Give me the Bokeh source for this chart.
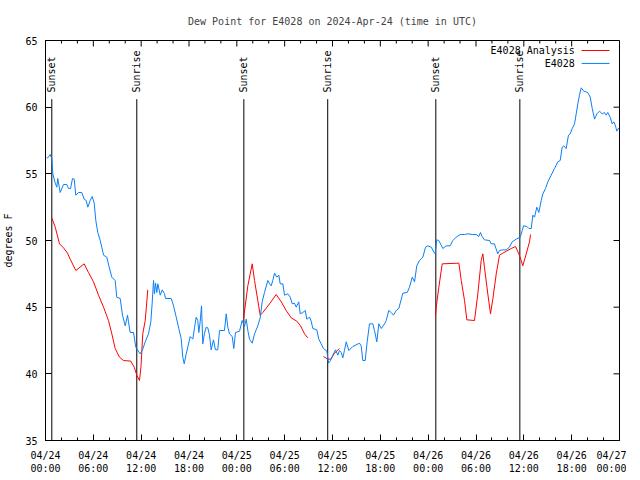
import math
from bokeh.plotting import figure
from bokeh.models import Range1d, FixedTicker
from bokeh.core.properties import value
from bokeh.embed import file_html
from bokeh.resources import INLINE

NAN = float("nan")
FONT = "DejaVu Sans Mono"

# ---- Observed dew point (E4028), hours since 2024-04-24 00:00 UTC ----
obs_hours = [
    0.13, 0.29, 0.59, 0.79, 0.92, 1.22, 1.42, 1.54, 1.84, 2.26,
    2.67, 2.89, 3.14, 3.39, 3.6, 3.8, 4.14, 4.55, 4.85, 5.1,
    5.31, 5.61, 5.86, 6.11, 6.31, 6.56, 6.86, 7.06, 7.28, 7.69,
    7.99, 8.32, 8.74, 8.94, 9.37, 9.66, 10.0, 10.29, 10.41, 10.62,
    11.04, 11.33, 11.54, 11.88, 12.17, 12.51, 12.92, 13.21, 13.38, 13.55,
    13.67, 13.8, 13.96, 14.09, 14.39, 14.64, 14.93, 15.05, 15.77, 16.06,
    16.4, 16.72, 17.02, 17.22, 17.4, 17.65, 17.85, 18.15, 18.48, 18.69,
    18.9, 19.1, 19.23, 19.4, 19.57, 19.73, 19.94, 20.16, 20.36, 20.57,
    20.78, 21.07, 21.32, 21.61, 21.83, 22.45, 22.67, 22.87, 23.08, 23.42,
    23.62, 23.83, 24.34, 24.67, 24.96, 25.18, 25.38, 25.59, 25.93, 26.22,
    26.63, 26.93, 27.18, 27.47, 27.89, 28.1, 28.31, 28.51, 28.73, 29.01,
    29.27, 29.44, 29.77, 29.98, 30.39, 30.7, 30.95, 31.23, 31.45, 31.77,
    31.95, 32.28, 32.58, 32.78, 33.12, 33.33, 33.53, 34.03, 34.28, 34.58,
    34.87, 35.29, 35.5, 35.75, 36.04, 36.38, 36.67, 36.88, 37.09, 37.29,
    37.5, 37.72, 38.05, 38.55, 39.39, 39.6, 39.8, 40.1, 40.35, 40.64,
    41.06, 41.27, 41.56, 41.81, 42.11, 42.53, 42.74, 43.06, 43.36, 43.65,
    43.99, 44.32, 44.82, 45.37, 45.66, 46.0, 46.29, 46.57, 46.91, 47.33,
    47.67, 47.95, 48.38, 48.8, 48.88, 49.08, 49.33, 49.84, 50.26, 50.76,
    51.09, 51.51, 52.02, 52.56, 52.97, 53.6, 54.02, 54.35, 54.56, 54.77,
    55.06, 55.69, 55.9, 56.31, 56.73, 56.95, 57.36, 57.79, 58.2, 58.54,
    59.04, 59.55, 59.8, 59.96, 60.38, 60.63, 60.93, 61.13, 61.34, 61.63,
    61.88, 62.18, 62.38, 62.72, 63.01, 63.43, 63.85, 64.26, 64.56, 64.81,
    65.01, 65.31, 65.6, 65.82, 66.07, 66.36, 66.57, 66.77, 66.98, 67.2,
    67.52, 68.02, 68.33, 68.58, 68.87, 69.16, 69.49, 69.83, 70.12, 70.33,
    70.53, 70.83, 71.08, 71.29, 71.5, 71.66, 71.92,
]
obs_dewpt = [
    56.2, 56.2, 56.45, 56.15, 55.0, 54.3, 54.0, 54.65, 53.6, 54.2,
    54.2, 53.9, 53.9, 54.65, 54.6, 53.4, 53.6, 53.6, 53.1, 53.0,
    52.5, 53.0, 53.3, 52.8, 51.5, 50.6, 50.0, 49.5, 48.9, 48.75,
    48.0, 47.25, 47.0, 45.75, 45.65, 44.4, 43.6, 44.4, 43.9, 43.1,
    43.1, 42.0, 41.8, 41.5, 41.8, 42.4, 43.0, 43.9, 45.3, 47.0,
    46.0, 46.8, 46.1, 46.75, 45.9, 46.3, 46.0, 45.65, 45.65, 45.1,
    44.25, 43.4, 42.65, 41.25, 40.75, 41.5, 42.0, 42.8, 42.6, 43.45,
    44.25, 44.0, 43.1, 43.9, 45.1, 42.25, 43.05, 43.5, 43.45, 42.9,
    41.8, 42.55, 41.8, 41.8, 43.25, 43.25, 44.5, 43.5, 43.0, 42.8,
    41.9, 43.1, 43.2, 44.0, 43.55, 44.1, 43.25, 42.6, 42.3, 43.0,
    43.6, 44.2, 45.4, 46.1, 47.0, 46.75, 46.6, 47.0, 47.55, 47.25,
    47.4, 46.75, 46.75, 45.9, 46.0, 45.75, 45.25, 45.3, 45.0, 45.4,
    44.5, 44.6, 44.75, 44.1, 44.25, 43.95, 43.4, 43.3, 42.6, 42.25,
    41.9, 41.7, 40.8, 41.0, 41.4, 41.8, 41.4, 41.75, 41.6, 41.2,
    41.75, 42.4, 41.75, 42.05, 42.3, 42.1, 41.0, 41.0, 42.4, 43.75,
    43.75, 43.25, 42.4, 43.75, 43.4, 43.75, 44.0, 44.75, 44.6, 44.4,
    44.75, 44.9, 46.05, 46.1, 46.5, 47.25, 46.9, 48.1, 48.5, 48.75,
    49.5, 49.6, 49.5, 49.05, 49.0, 50.05, 50.0, 49.4, 49.6, 49.6,
    50.0, 50.25, 50.45, 50.45, 50.5, 50.45, 50.45, 50.3, 50.6, 50.3,
    50.05, 50.0, 49.75, 49.75, 49.0, 49.25, 49.3, 49.3, 49.5, 49.9,
    50.1, 50.25, 50.75, 51.1, 51.05, 50.9, 50.9, 51.9, 51.75, 52.5,
    52.1, 53.0, 53.5, 53.9, 54.4, 54.9, 55.4, 55.9, 56.0, 57.0,
    57.1, 56.9, 57.9, 58.0, 58.4, 58.75, 59.5, 60.25, 60.9, 61.45,
    61.2, 61.1, 60.75, 59.9, 59.1, 59.5, 59.7, 59.5, 59.6, 59.4,
    59.6, 59.25, 58.75, 58.9, 58.6, 58.2, 58.45,
]

# ---- Analysis dew point (E4028 Analysis); NaN marks gaps ----
ana_hours = [
    0.79, 1.22, 1.76, 2.26, 2.76, 3.1, 3.8, 4.85, 5.39, 6.02, 6.65, 7.28, 7.9,
    8.32, 8.74, 9.28, 9.78, 10.7, 11.13, 11.45, 11.79, 11.98, 12.2, 12.51, 12.83,
    NAN,
    24.84, 25.38, 25.93, 26.22, 26.63, 26.93, 27.26, 28.1, 28.94, 29.57, 30.19,
    30.82, 31.52, 31.99, 32.49, 32.9,
    NAN,
    34.87, 35.41, 35.79, 36.25, 36.88,
    NAN,
    48.92, 49.01, 49.34, 49.76, 51.85, 52.15, 52.56, 52.85, 53.81, 54.23, 54.65,
    54.86, 55.06, 55.48, 55.82, 56.11, 56.54, 56.95, 57.36, 58.42, 58.96, 59.37,
    59.67, 59.87, 60.3, 60.71, 60.84,
]
ana_dewpt = [
    51.7, 51.0, 49.75, 49.45, 49.05, 48.6, 47.75, 48.25, 47.6, 46.9, 45.9, 45.0, 44.0,
    43.0, 41.9, 41.25, 41.0, 40.95, 40.5, 39.9, 39.5, 40.55, 43.0, 44.0, 46.3,
    NAN,
    44.1, 46.6, 48.25, 47.0, 45.5, 44.4, 44.6, 45.25, 45.95, 45.4, 44.75,
    44.2, 43.95, 43.6, 43.0, 42.7,
    NAN,
    41.3, 41.1, 41.1, 41.55, 41.9,
    NAN,
    44.3, 45.0, 46.5, 48.25, 48.3, 47.0, 45.5, 44.05, 44.0, 46.0, 48.5,
    49.0, 48.0, 46.0, 44.5, 45.6, 47.5, 48.9, 49.05, 49.4, 49.55, 49.0,
    48.5, 48.1, 49.0, 49.9, 50.45,
]

# ---- Sun events ----
event_hours = [0.79, 11.45, 24.88, 35.4, 48.96, 59.5]
event_names = ["Sunset", "Sunrise", "Sunset", "Sunrise", "Sunset", "Sunrise"]

# ---- Axes ----
X_MIN, X_MAX = 0, 72
Y_MIN, Y_MAX = 35, 65
x_tick_hours = [0, 6, 12, 18, 24, 30, 36, 42, 48, 54, 60, 66, 72]
x_tick_labels = [
    "04/24\n00:00", "04/24\n06:00", "04/24\n12:00", "04/24\n18:00",
    "04/25\n00:00", "04/25\n06:00", "04/25\n12:00", "04/25\n18:00",
    "04/26\n00:00", "04/26\n06:00", "04/26\n12:00", "04/26\n18:00",
    "04/27\n00:00",
]
x_minor_hours = [h for h in range(0, 73, 2) if h % 6 != 0]
y_ticks = [35, 40, 45, 50, 55, 60, 65]

series_names = ["E4028 Analysis", "E4028"]
series_colors = ["#ff0000", "#0a7ff5"]

# layout / style constants
FRAME_W, FRAME_H = 574, 400
H_PER_PX = (X_MAX - X_MIN) / FRAME_W
D_PER_PX = (Y_MAX - Y_MIN) / FRAME_H
MAJOR_TICK_PX, MINOR_TICK_PX = 6, 3
EVENT_LINE_TOP = 60.6
EVENT_TEXT_Y = 61.1
LEGEND_TEXT_X = 66.4
LEGEND_LINE_X0 = 67.25
LEGEND_LINE_X1 = 70.75
LEGEND_ROWS_Y = [64.25, 63.28]

p = figure(
    frame_width=FRAME_W, frame_height=FRAME_H,
    min_border_left=43, min_border_right=7, min_border_top=40, min_border_bottom=30,
    x_range=Range1d(X_MIN, X_MAX), y_range=Range1d(Y_MIN, Y_MAX),
    output_backend="svg", toolbar_location=None,
    title="Dew Point for E4028 on 2024-Apr-24 (time in UTC)",
)
p.title.align = "center"
p.title.text_font = FONT
p.title.text_font_size = "10px"
p.title.text_font_style = "normal"
p.title.standoff = 27

p.background_fill_color = "white"
p.border_fill_color = "white"
p.outline_line_color = "black"
p.outline_line_alpha = 1.0
p.xgrid.visible = False
p.ygrid.visible = False

x_ticker = FixedTicker(ticks=x_tick_hours, minor_ticks=x_minor_hours)
y_ticker = FixedTicker(ticks=y_ticks, minor_ticks=[])

xa = p.xaxis[0]
xa.ticker = x_ticker
xa.major_label_overrides = dict(zip(x_tick_hours, x_tick_labels))
ya = p.yaxis[0]
ya.ticker = y_ticker
ya.axis_label = "degrees F"

for ax in (xa, ya):
    ax.axis_line_color = "black"
    ax.major_tick_in = MAJOR_TICK_PX
    ax.major_tick_out = 0
    ax.minor_tick_in = MINOR_TICK_PX
    ax.minor_tick_out = 0
    ax.major_tick_line_color = "black"
    ax.minor_tick_line_color = "black"
    ax.major_label_text_font = FONT
    ax.major_label_text_font_size = "10px"
    ax.major_label_text_color = "black"
    ax.major_label_standoff = 8
    ax.axis_label_text_font = FONT
    ax.axis_label_text_font_size = "10px"
    ax.axis_label_text_font_style = "normal"
    ax.axis_label_text_color = "black"
xa.major_label_standoff = 9
ya.axis_label_standoff = 8

# mirrored ticks on the top and right edges (gnuplot style)
p.segment(x0=x_tick_hours, y0=[Y_MAX] * len(x_tick_hours), x1=x_tick_hours,
          y1=[Y_MAX - MAJOR_TICK_PX * D_PER_PX] * len(x_tick_hours), line_color="black")
p.segment(x0=x_minor_hours, y0=[Y_MAX] * len(x_minor_hours), x1=x_minor_hours,
          y1=[Y_MAX - MINOR_TICK_PX * D_PER_PX] * len(x_minor_hours), line_color="black")
p.segment(x0=[X_MAX] * len(y_ticks), y0=y_ticks,
          x1=[X_MAX - MAJOR_TICK_PX * H_PER_PX] * len(y_ticks), y1=y_ticks, line_color="black")

# sunrise / sunset markers
p.segment(x0=event_hours, y0=[Y_MIN] * len(event_hours), x1=event_hours,
          y1=[EVENT_LINE_TOP] * len(event_hours), line_color="black", line_width=1)
p.text(x=event_hours, y=[EVENT_TEXT_Y] * len(event_hours), text=event_names,
       angle=math.pi / 2, text_align="left", text_baseline="middle",
       text_font=value(FONT), text_font_size="10px", text_color="black")

# data series
p.line(ana_hours, ana_dewpt, line_color=series_colors[0], line_width=1)
p.line(obs_hours, obs_dewpt, line_color=series_colors[1], line_width=1)

# gnuplot-style key (text then sample line)
p.text(x=[LEGEND_TEXT_X] * 2, y=LEGEND_ROWS_Y, text=series_names,
       text_align="right", text_baseline="middle",
       text_font=value(FONT), text_font_size="10px", text_color="black")
p.segment(x0=[LEGEND_LINE_X0] * 2, y0=LEGEND_ROWS_Y, x1=[LEGEND_LINE_X1] * 2,
          y1=LEGEND_ROWS_Y, line_color=series_colors, line_width=1)

with open("out.html", "w") as f:
    f.write(file_html(p, INLINE))
